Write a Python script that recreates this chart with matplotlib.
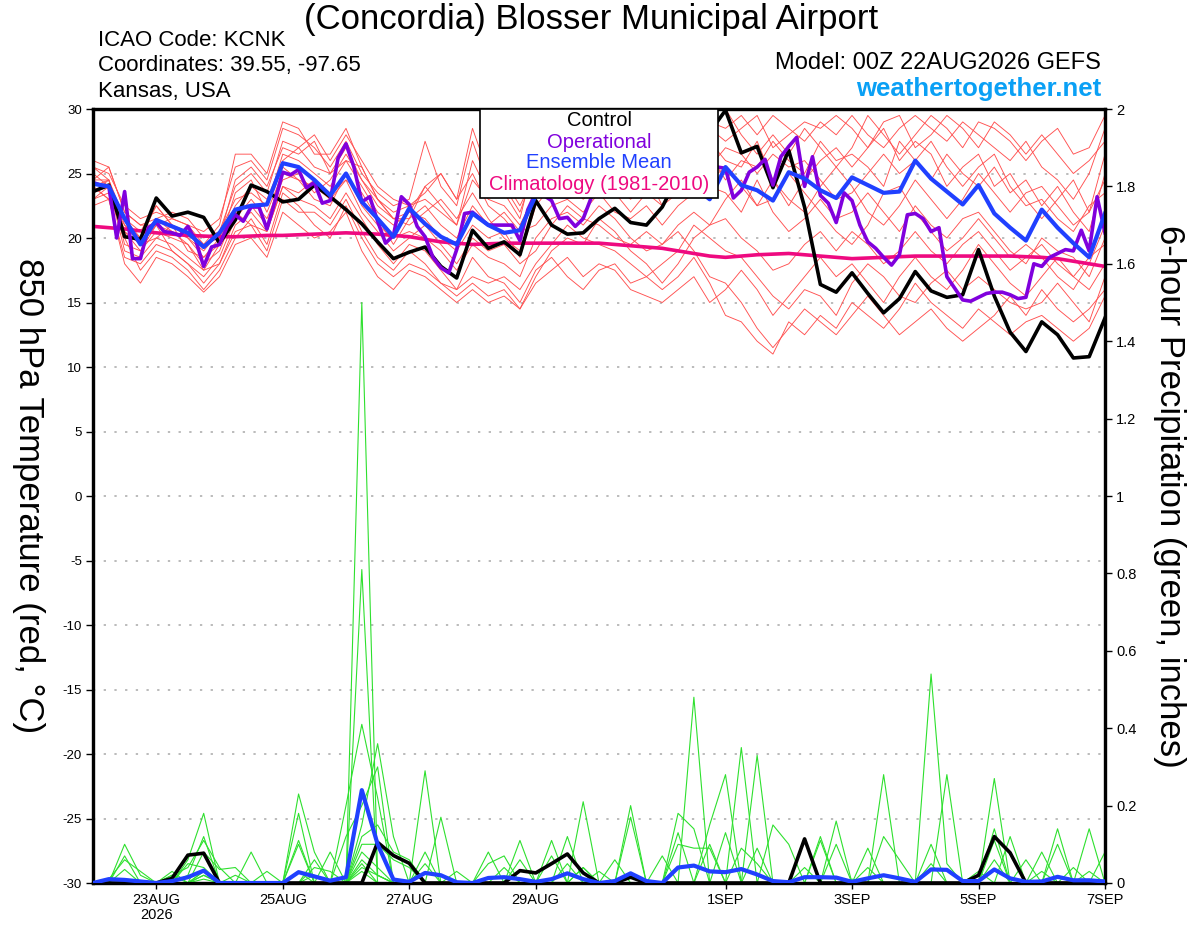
import numpy as np
import matplotlib
matplotlib.use("Agg")
import matplotlib.pyplot as plt
from matplotlib.patches import Rectangle

plt.rcParams['font.family'] = ['Liberation Sans', 'DejaVu Sans']

# forecast hours: 6-hourly ensemble, 3-hourly operational run
hours6 = np.arange(65) * 6
hours3 = np.arange(129) * 3

# 850 hPa temperature, ensemble members (deg C), 4 values per day
temp_members = [
    [25.5, 25.0, 22.5, 21.5, 22.0, 21.5, 21.0, 20.5, 21.5, 25.5, 26.0, 24.5, 28.5, 28.0, 27.0, 25.5,
     27.5, 25.0, 23.5, 22.5, 23.0, 27.5, 24.0, 22.5, 27.5, 24.0, 23.5, 21.5, 26.5, 27.0, 28.0, 27.5,
     28.5, 27.0, 26.0, 27.5, 26.0, 26.5, 28.5, 29.0, 28.5, 29.5, 28.0, 29.5, 28.5, 27.5, 29.0, 28.0,
     29.5, 28.0, 27.0, 28.5, 29.5, 28.5, 27.5, 29.0, 28.0, 27.0, 26.0, 27.5, 25.5, 24.5, 23.0, 25.0,
     28.5],
    [23.5, 24.0, 19.0, 18.5, 20.0, 19.5, 18.5, 17.5, 18.0, 21.0, 22.0, 20.5, 24.0, 23.0, 22.5, 21.5,
     23.5, 21.5, 19.5, 18.0, 19.5, 19.0, 17.5, 16.0, 18.5, 17.0, 16.5, 15.0, 17.5, 18.5, 17.0, 16.0,
     17.5, 18.0, 16.5, 17.0, 16.0, 17.0, 18.5, 16.5, 14.0, 13.5, 12.0, 11.0, 13.5, 12.5, 14.0, 13.0,
     15.0, 14.0, 13.0, 14.5, 16.5, 15.0, 14.0, 13.0, 14.5, 13.5, 12.5, 13.5, 14.0, 13.0, 12.0, 13.0,
     15.5],
    [24.5, 24.5, 21.0, 20.0, 21.5, 20.5, 20.0, 19.0, 20.5, 23.0, 23.5, 22.5, 26.5, 26.0, 25.0, 24.0,
     26.0, 24.0, 22.0, 21.0, 22.0, 21.5, 20.0, 19.0, 21.0, 20.0, 20.5, 18.5, 22.5, 24.0, 24.5, 23.0,
     24.0, 23.5, 22.0, 23.5, 22.5, 24.0, 25.0, 24.0, 23.5, 22.0, 24.5, 22.0, 20.5, 21.5, 23.0, 21.5,
     22.0, 23.5, 22.0, 20.5, 22.5, 21.0, 20.0, 21.5, 22.0, 20.5, 19.0, 18.0, 20.0, 19.0, 18.5, 17.0,
     20.0],
    [23.0, 23.5, 20.0, 17.5, 19.0, 18.5, 17.5, 16.0, 17.5, 20.0, 21.5, 19.5, 23.5, 22.5, 21.0, 20.0,
     22.5, 20.0, 18.0, 17.0, 18.0, 17.5, 16.5, 15.5, 16.5, 15.5, 16.0, 14.5, 17.0, 19.0, 20.0, 19.5,
     21.5, 20.5, 19.0, 18.0, 16.5, 18.0, 20.0, 21.0, 23.0, 24.5, 22.5, 24.5, 23.0, 22.0, 24.0, 25.5,
     24.0, 22.0, 21.0, 22.5, 24.5, 23.0, 21.5, 23.0, 25.0, 23.5, 22.0, 23.5, 24.0, 22.5, 21.0, 22.0,
     24.5],
    [26.0, 25.5, 22.0, 21.0, 21.5, 22.0, 21.5, 20.0, 20.5, 24.0, 25.0, 23.5, 27.5, 27.0, 28.0, 26.0,
     28.0, 26.0, 24.0, 23.0, 22.5, 23.5, 25.0, 23.0, 25.0, 22.5, 21.5, 20.0, 24.0, 26.0, 27.5, 26.0,
     27.0, 26.5, 25.0, 24.0, 23.5, 25.0, 26.5, 27.5, 26.0, 25.5, 27.5, 24.5, 22.5, 24.5, 26.0, 27.0,
     25.5, 27.0, 28.5, 26.0, 27.5, 26.5, 24.0, 25.5, 26.5, 24.0, 25.0, 23.0, 21.5, 23.0, 24.5, 22.0,
     26.5],
    [22.5, 23.0, 18.0, 16.5, 18.5, 18.0, 17.0, 15.8, 17.0, 19.5, 20.0, 18.5, 22.0, 21.0, 20.0, 20.5,
     22.0, 19.0, 17.0, 16.0, 17.5, 17.0, 16.0, 15.0, 16.0, 15.0, 15.5, 14.5, 16.5, 17.5, 18.5, 17.0,
     18.0, 17.5, 16.0, 15.5, 15.0, 16.0, 17.0, 15.0, 16.0, 17.5, 16.0, 14.0, 15.5, 17.0, 18.5, 17.0,
     18.0, 16.5, 15.0, 17.0, 18.5, 17.0, 16.0, 17.5, 19.5, 18.0, 16.5, 15.5, 17.0, 18.5, 17.0, 16.0,
     18.0],
    [24.0, 24.5, 20.5, 19.0, 20.5, 20.0, 19.5, 18.0, 19.0, 22.0, 22.5, 21.0, 25.5, 24.5, 23.0, 22.5,
     25.0, 22.5, 21.0, 20.0, 20.5, 20.0, 19.0, 17.5, 19.5, 18.5, 18.0, 17.0, 20.0, 21.5, 22.0, 21.0,
     22.5, 21.5, 20.0, 19.0, 19.5, 20.5, 19.0, 17.0, 16.5, 15.0, 13.0, 11.5, 13.0, 14.5, 13.5, 12.5,
     14.0, 15.5, 14.0, 12.5, 13.5, 14.5, 13.0, 12.0, 13.0, 14.0, 15.5, 14.0, 16.0, 14.5, 13.5, 14.5,
     16.0],
    [25.0, 24.0, 21.5, 20.5, 22.5, 21.0, 20.5, 19.5, 21.0, 26.5, 26.5, 25.0, 29.0, 28.5, 26.5, 26.5,
     28.5, 25.5, 23.0, 21.5, 22.0, 24.0, 25.0, 23.0, 28.5, 25.0, 24.0, 22.0, 25.5, 27.5, 29.0, 28.0,
     27.5, 28.5, 27.0, 26.0, 25.0, 27.0, 29.0, 28.0, 30.0, 28.0, 26.5, 28.0, 26.5, 28.5, 27.0, 25.5,
     27.0, 29.5, 28.0, 26.5, 28.0, 29.5, 28.5, 27.0, 29.0, 28.5, 27.5, 26.0, 27.5, 28.5, 26.5, 27.0,
     29.5],
    [24.0, 23.0, 21.0, 19.5, 20.0, 21.0, 19.0, 18.5, 19.5, 23.5, 24.5, 22.0, 25.0, 24.5, 24.0, 23.0,
     24.5, 23.5, 21.5, 19.5, 21.5, 22.5, 21.0, 20.0, 22.5, 21.0, 22.0, 20.5, 21.0, 22.5, 23.0, 22.0,
     23.5, 22.0, 21.5, 22.5, 21.0, 22.5, 23.5, 24.5, 25.5, 24.0, 22.5, 23.0, 25.0, 23.5, 22.0, 20.5,
     19.5, 21.0, 23.5, 24.0, 22.0, 20.5, 19.0, 20.0, 21.5, 20.0, 18.5, 19.5, 18.5, 17.0, 16.0, 18.0,
     21.0],
    [23.5, 24.5, 19.5, 19.0, 21.0, 19.0, 18.0, 17.0, 18.5, 21.5, 23.0, 21.5, 24.5, 25.0, 23.5, 24.5,
     26.5, 24.5, 22.5, 21.5, 21.0, 22.0, 23.0, 21.5, 23.5, 21.5, 20.0, 19.0, 23.0, 25.0, 24.0, 25.5,
     25.0, 24.0, 23.0, 24.5, 23.5, 26.0, 27.0, 25.5, 27.0, 26.5, 25.0, 26.5, 25.5, 26.0, 24.5, 23.0,
     23.5, 25.0, 26.5, 25.0, 26.0, 27.5, 25.5, 24.0, 25.5, 26.5, 24.0, 22.5, 23.0, 21.5, 20.5, 22.5,
     23.5],
    [24.0, 23.0, 18.5, 18.0, 19.5, 19.0, 18.0, 16.5, 18.0, 20.5, 21.0, 19.0, 23.0, 22.0, 22.0, 21.0,
     23.0, 20.5, 18.5, 17.5, 19.0, 18.0, 16.5, 16.0, 17.0, 16.5, 17.0, 16.0, 18.0, 19.5, 21.0, 20.0,
     19.5, 19.0, 18.0, 17.0, 18.0, 19.0, 21.0, 20.0, 19.0, 18.5, 17.0, 15.5, 14.5, 16.0, 15.5, 14.0,
     16.5, 18.0, 17.0, 15.5, 15.0, 16.5, 17.5, 16.0, 17.0, 16.0, 15.0, 14.5, 15.0, 16.5, 15.0, 13.5,
     17.0],
    [24.5, 25.5, 22.0, 21.0, 21.0, 21.5, 21.0, 19.5, 20.0, 22.5, 24.0, 23.0, 26.0, 27.0, 25.5, 25.0,
     27.0, 24.5, 23.0, 22.0, 22.5, 23.0, 22.0, 21.0, 24.5, 23.0, 22.5, 21.0, 23.5, 24.5, 26.0, 27.0,
     26.0, 25.0, 24.0, 26.0, 24.5, 25.5, 27.5, 28.5, 27.5, 28.5, 29.5, 27.0, 28.0, 29.0, 28.5, 29.5,
     28.5, 27.0, 29.0, 29.5, 27.0, 28.0, 29.5, 28.5, 27.0, 29.0, 28.0, 26.5, 28.0, 26.5, 25.0, 26.0,
     27.5],
    [23.0, 24.0, 20.5, 19.5, 21.0, 20.5, 19.5, 17.5, 19.5, 22.0, 21.0, 20.5, 24.0, 23.5, 24.5, 23.5,
     24.5, 22.0, 20.5, 19.0, 20.0, 21.0, 19.5, 18.0, 20.0, 19.0, 19.5, 18.0, 19.0, 21.0, 22.5, 21.5,
     21.0, 20.0, 19.5, 20.5, 19.5, 21.0, 22.0, 21.0, 21.5, 20.0, 19.0, 17.5, 18.0, 19.5, 20.5, 19.0,
     20.5, 19.5, 18.0, 19.0, 20.5, 19.0, 18.0, 19.5, 20.5, 19.0, 17.5, 18.5, 19.5, 18.0, 17.0, 18.5,
     19.5],
    [25.5, 24.5, 21.5, 20.0, 22.5, 21.0, 20.0, 18.5, 20.0, 24.5, 25.5, 24.0, 27.0, 26.5, 27.5, 25.0,
     26.0, 25.5, 23.0, 21.5, 21.5, 24.0, 22.5, 21.0, 26.0, 23.5, 24.5, 22.5, 25.0, 26.5, 25.0, 24.5,
     25.5, 27.0, 26.0, 25.0, 22.5, 23.5, 25.5, 26.5, 24.5, 26.0, 25.5, 27.5, 26.0, 25.0, 27.5, 26.0,
     26.5, 25.5, 24.0, 27.5, 26.0, 24.5, 26.5, 25.0, 24.0, 25.5, 23.5, 24.5, 22.5, 24.0, 22.0, 20.5,
     25.0],
]

control_temp = [
    23.6, 24.1, 20.1, 19.9, 23.1, 21.7, 22.0, 21.6, 19.6, 21.4, 24.1, 23.6, 22.8, 23.0, 24.1, 23.2,
    22.2, 21.1, 19.7, 18.4, 18.9, 19.3, 17.8, 16.9, 20.6, 19.2, 19.7, 18.7, 22.9, 21.0, 20.3, 20.4,
    21.5, 22.3, 21.2, 21.0, 22.4, 24.8, 26.5, 28.2, 29.9, 26.6, 27.1, 23.9, 26.8, 22.4, 16.4, 15.8,
    17.3, 15.7, 14.2, 15.3, 17.4, 15.9, 15.4, 15.6, 19.1, 15.5, 12.7, 11.2, 13.5, 12.5, 10.7, 10.8,
    13.8]

mean_temp = [
    24.2, 24.0, 21.5, 19.5, 21.4, 20.9, 20.4, 19.3, 20.4, 22.2, 22.5, 22.6, 25.8, 25.5, 24.5, 23.3,
    25.0, 22.8, 21.5, 20.1, 22.3, 21.1, 20.1, 19.5, 21.9, 21.0, 20.4, 20.6, 23.3, 23.3, 23.2, 23.4,
    24.0, 24.5, 24.0, 24.5, 25.0, 24.5, 24.0, 23.0, 25.5, 24.1, 23.7, 22.9, 25.1, 24.6, 23.7, 23.1,
    24.7, 24.1, 23.5, 23.6, 26.0, 24.6, 23.6, 22.6, 24.1, 21.9, 20.8, 19.8, 22.2, 20.8, 19.6, 18.5,
    21.9]

clim_temp = [
    20.9, 20.8, 20.7, 20.55, 20.4, 20.3, 20.2, 20.15, 20.1, 20.1, 20.15, 20.2, 20.2, 20.25, 20.3, 20.35,
    20.4, 20.35, 20.3, 20.2, 20.1, 19.9, 19.7, 19.6, 19.5, 19.55, 19.6, 19.6, 19.6, 19.6, 19.6, 19.6,
    19.6, 19.5, 19.4, 19.3, 19.2, 19.0, 18.8, 18.6, 18.5, 18.6, 18.7, 18.75, 18.8, 18.7, 18.6, 18.5,
    18.4, 18.45, 18.5, 18.55, 18.6, 18.6, 18.6, 18.6, 18.6, 18.6, 18.6, 18.55, 18.5, 18.4, 18.2, 18.0,
    17.8]

# operational run, 3-hourly
oper_temp = [
    24.3, 24.1, 24.0, 20.0, 23.6, 18.4, 18.4, 20.8, 21.2, 20.5, 20.4, 20.2, 20.9, 19.8, 17.8, 19.3,
    19.5, 20.9, 21.8, 21.3, 22.4, 22.4, 20.7, 22.8, 25.1, 24.9, 25.3, 23.9, 24.3, 22.7, 22.9, 26.2,
    27.3, 25.5, 22.8, 23.2, 21.3, 19.6, 20.2, 23.2, 22.6, 20.9, 20.1, 18.5, 17.7, 17.3, 19.1, 21.9,
    22.0, 21.5, 21.0, 21.0, 21.0, 21.0, 19.8, 22.2, 23.5, 23.3, 22.9, 21.5, 21.6, 20.9, 21.5, 23.1,
    24.0, 24.5, 25.0, 24.0, 23.5, 24.5, 25.5, 26.0, 25.0, 24.5, 25.5, 26.5, 27.0, 26.0, 25.0, 25.5,
    25.4, 23.1, 23.7, 25.1, 25.5, 26.1, 24.1, 26.3, 27.1, 27.8, 24.0, 26.3, 23.3, 22.7, 21.2, 23.5,
    22.9, 21.0, 19.7, 19.2, 18.5, 17.9, 18.7, 21.8, 21.9, 21.5, 20.5, 20.8, 17.0, 16.1, 15.2, 15.1,
    15.4, 15.7, 15.8, 15.8, 15.6, 15.3, 15.4, 18.0, 17.8, 18.5, 18.8, 19.1, 19.0, 20.6, 19.0, 23.2,
    20.4]

# 6-hour precipitation, ensemble members (inches)
precip_members = [
    [0, 0, 0.10, 0.02, 0, 0, 0.02, 0.12, 0, 0, 0, 0, 0, 0.10, 0, 0,
     0, 1.50, 0.02, 0, 0, 0.05, 0, 0, 0, 0, 0, 0.06, 0, 0, 0, 0.04,
     0, 0, 0, 0, 0, 0.18, 0.14, 0, 0, 0.35, 0, 0, 0, 0, 0.12, 0,
     0, 0, 0.28, 0, 0, 0, 0, 0, 0, 0.14, 0, 0, 0, 0, 0, 0,
     0],
    [0, 0, 0.07, 0, 0, 0, 0.06, 0.18, 0, 0, 0, 0, 0, 0.23, 0.08, 0,
     0, 0.81, 0, 0, 0, 0.29, 0, 0, 0, 0, 0, 0, 0, 0.11, 0, 0.21,
     0, 0, 0, 0, 0, 0, 0.48, 0, 0, 0, 0.33, 0, 0, 0, 0, 0,
     0, 0, 0, 0, 0, 0.54, 0.05, 0, 0, 0, 0, 0, 0, 0, 0, 0,
     0],
    [0, 0.01, 0.06, 0.03, 0, 0.02, 0.04, 0.11, 0.04, 0, 0, 0, 0, 0.18, 0, 0,
     0.20, 0.41, 0.22, 0, 0, 0, 0.17, 0, 0, 0.08, 0, 0, 0, 0, 0.12, 0,
     0, 0, 0.20, 0, 0, 0, 0, 0.15, 0.28, 0, 0, 0, 0, 0, 0, 0,
     0, 0, 0, 0, 0, 0, 0.28, 0, 0, 0.27, 0, 0, 0, 0, 0, 0,
     0],
    [0, 0, 0.035, 0, 0, 0, 0, 0.08, 0.035, 0.04, 0, 0, 0, 0.11, 0, 0.08,
     0, 0.15, 0.36, 0.12, 0, 0, 0, 0, 0, 0, 0, 0.11, 0, 0, 0, 0,
     0, 0, 0, 0, 0, 0.13, 0, 0, 0, 0, 0.09, 0, 0, 0, 0, 0.16,
     0, 0.09, 0, 0, 0, 0, 0, 0, 0, 0, 0.12, 0, 0, 0.14, 0, 0,
     0],
    [0, 0, 0, 0, 0, 0, 0.05, 0.04, 0, 0, 0.08, 0, 0, 0, 0.06, 0,
     0.12, 0.20, 0.30, 0, 0, 0.08, 0, 0, 0, 0.05, 0.07, 0, 0, 0, 0, 0,
     0, 0.06, 0, 0, 0, 0, 0, 0, 0.13, 0, 0, 0.15, 0.10, 0, 0, 0,
     0, 0, 0, 0, 0, 0, 0, 0, 0, 0.11, 0, 0.06, 0, 0, 0, 0,
     0.08],
    [0, 0, 0, 0, 0, 0.03, 0, 0, 0, 0, 0, 0.03, 0, 0, 0.04, 0.03,
     0, 0.12, 0.15, 0.08, 0.06, 0, 0, 0.03, 0, 0, 0.04, 0, 0, 0.07, 0, 0,
     0, 0, 0.17, 0, 0.07, 0, 0, 0.10, 0, 0, 0, 0, 0, 0, 0, 0.10,
     0, 0, 0, 0, 0, 0.10, 0, 0, 0, 0, 0, 0, 0.08, 0, 0, 0.14,
     0],
    [0, 0, 0, 0, 0, 0.02, 0, 0.03, 0, 0, 0, 0, 0, 0, 0, 0,
     0, 0.10, 0.10, 0.06, 0.04, 0, 0, 0, 0, 0, 0, 0, 0, 0, 0.05, 0,
     0.03, 0, 0, 0, 0, 0.10, 0.09, 0.09, 0, 0.09, 0.05, 0, 0, 0, 0.11, 0,
     0, 0, 0.12, 0.06, 0, 0, 0, 0, 0, 0, 0, 0, 0, 0, 0, 0,
     0],
    [0, 0, 0, 0, 0, 0, 0, 0.02, 0, 0, 0, 0, 0, 0, 0, 0,
     0, 0.08, 0.04, 0, 0, 0, 0, 0, 0, 0, 0, 0, 0, 0, 0, 0,
     0, 0, 0, 0, 0, 0, 0, 0, 0, 0, 0, 0, 0, 0.04, 0, 0,
     0, 0, 0, 0, 0, 0, 0, 0, 0, 0.06, 0, 0, 0.03, 0, 0, 0,
     0],
    [0, 0, 0, 0, 0, 0, 0, 0.03, 0, 0, 0, 0, 0, 0, 0.02, 0,
     0, 0.06, 0.02, 0, 0, 0, 0, 0, 0, 0, 0, 0, 0, 0, 0, 0.04,
     0, 0, 0, 0, 0, 0, 0, 0, 0, 0, 0, 0, 0, 0, 0, 0,
     0, 0.04, 0, 0, 0, 0.05, 0, 0, 0.03, 0, 0, 0, 0, 0.10, 0, 0.03,
     0],
    [0, 0, 0, 0, 0, 0, 0, 0.01, 0, 0, 0, 0, 0, 0, 0, 0,
     0, 0.05, 0, 0, 0, 0, 0, 0, 0, 0, 0, 0, 0, 0, 0, 0,
     0, 0, 0, 0, 0, 0, 0, 0, 0, 0, 0, 0, 0, 0, 0, 0,
     0.01, 0, 0, 0, 0, 0, 0, 0, 0, 0, 0, 0, 0, 0, 0.04, 0,
     0],
    [0, 0, 0, 0, 0, 0, 0, 0.02, 0, 0.02, 0, 0, 0, 0.03, 0, 0,
     0, 0.04, 0.02, 0, 0, 0, 0, 0, 0, 0, 0, 0, 0, 0, 0, 0,
     0, 0, 0, 0, 0, 0, 0, 0, 0, 0, 0, 0, 0, 0, 0, 0,
     0, 0, 0, 0, 0, 0, 0, 0, 0, 0, 0, 0, 0, 0, 0, 0,
     0],
    [0, 0, 0, 0, 0, 0, 0, 0, 0, 0, 0, 0, 0, 0, 0, 0,
     0, 0.03, 0, 0, 0, 0, 0, 0, 0, 0, 0, 0, 0, 0, 0, 0,
     0, 0, 0, 0, 0, 0, 0, 0, 0, 0, 0, 0, 0, 0, 0, 0,
     0, 0, 0, 0, 0, 0, 0, 0, 0, 0, 0, 0, 0, 0, 0, 0,
     0],
]

control_precip = [
    0, 0, 0, 0, 0, 0.012, 0.072, 0.077, 0, 0, 0, 0, 0, 0, 0, 0,
    0, 0, 0.105, 0.071, 0.051, 0, 0, 0, 0, 0, 0, 0.032, 0.026, 0.05, 0.075, 0.026,
    0, 0, 0.015, 0, 0, 0, 0, 0, 0, 0, 0, 0, 0, 0.114, 0, 0,
    0, 0, 0, 0, 0, 0, 0, 0, 0.02, 0.12, 0.078, 0, 0, 0, 0, 0,
    0]

mean_precip = [
    0, 0.01, 0.008, 0.004, 0, 0.005, 0.015, 0.032, 0, 0, 0, 0, 0, 0.028, 0.017, 0.006,
    0.015, 0.24, 0.10, 0.009, 0.003, 0.026, 0.02, 0.002, 0, 0.013, 0.015, 0.01, 0.003, 0.01, 0.025, 0.01,
    0, 0.005, 0.025, 0.005, 0, 0.04, 0.045, 0.03, 0.028, 0.036, 0.022, 0.005, 0.002, 0.015, 0.015, 0.014,
    0.003, 0.012, 0.02, 0.012, 0.003, 0.035, 0.034, 0.005, 0.005, 0.035, 0.012, 0.003, 0.004, 0.016, 0.007, 0.007,
    0.004]

tick_hours = [24, 72, 120, 168, 240, 288, 336, 384]
tick_labels = ['23AUG\n2026', '25AUG', '27AUG', '29AUG', '1SEP', '3SEP', '5SEP', '7SEP']
legend_names = ['Control', 'Operational', 'Ensemble Mean', 'Climatology (1981-2010)']

RED = '#ff5050'
GREEN = '#2ee02e'
BLACK = 'black'
PURPLE = '#8000dd'
BLUE = '#2040ff'
PINK = '#ee0a80'

W, H = 1200, 927
fig = plt.figure(figsize=(W / 100, H / 100), dpi=100)
ax = fig.add_axes([93 / W, 1 - 883 / H, 1012 / W, 774 / H])
ax2 = ax.twinx()

for m in temp_members:
    ax.plot(hours6, m, color=RED, lw=0.65, zorder=2)
ax.plot(hours6, clim_temp, color=PINK, lw=2.6, zorder=3)
ax.plot(hours6, control_temp, color=BLACK, lw=2.6, zorder=4)
ax.plot(hours3, oper_temp, color=PURPLE, lw=2.6, zorder=5)
ax.plot(hours6, mean_temp, color=BLUE, lw=3.0, zorder=6)

for m in precip_members:
    ax2.plot(hours6, m, color=GREEN, lw=0.8, zorder=2)
ax2.plot(hours6, control_precip, color=BLACK, lw=2.6, zorder=4)
ax2.plot(hours6, mean_precip, color=BLUE, lw=3.0, zorder=6)

ax.set_xlim(0, 384)
ax.set_ylim(-30, 30)
ax2.set_ylim(0, 2)

ax.set_yticks(np.arange(-30, 31, 5))
ax.set_yticklabels([str(v) for v in range(-30, 31, 5)])
ax2.set_yticks(np.arange(0, 2.01, 0.2))
ax2.set_yticklabels(['0', '0.2', '0.4', '0.6', '0.8', '1', '1.2', '1.4', '1.6', '1.8', '2'])
ax.set_xticks(tick_hours)
ax.set_xticklabels(tick_labels, linespacing=1.1)

for v in range(-25, 30, 5):
    ax.axhline(v, color='#a8a8a8', lw=1.1, ls=(0, (1.5, 5.5)), zorder=1)

ax.tick_params(axis='y', direction='out', length=5, width=1, labelsize=9.5, pad=3)
ax.tick_params(axis='x', direction='out', length=4, width=1, labelsize=10.5, pad=3)
ax2.tick_params(axis='y', direction='out', length=5, width=1, labelsize=10.5, pad=3)
for a in (ax, ax2):
    for s in a.spines.values():
        s.set_linewidth(2.3)

ax.set_ylabel('850 hPa Temperature (red, °C)', fontsize=25, rotation=270,
              labelpad=0, va='center')
ax.yaxis.set_label_coords(-0.064, 0.5)
ax2.set_ylabel('6-hour Precipitation (green, inches)', fontsize=25, rotation=270,
               va='center')
ax2.yaxis.set_label_coords(1.064, 0.5)

# header text
fig.text(591 / W, 1 - 19 / H, '(Concordia) Blosser Municipal Airport',
         ha='center', va='center', fontsize=25)
fig.text(98 / W, 1 - 40 / H, 'ICAO Code: KCNK', ha='left', va='center', fontsize=16)
fig.text(98 / W, 1 - 66 / H, 'Coordinates: 39.55, -97.65', ha='left', va='center', fontsize=16)
fig.text(98 / W, 1 - 92 / H, 'Kansas, USA', ha='left', va='center', fontsize=16)
fig.text(1101 / W, 1 - 63 / H, 'Model: 00Z 22AUG2026 GEFS', ha='right', va='center', fontsize=17)
fig.text(1101 / W, 1 - 89 / H, 'weathertogether.net', ha='right', va='center',
         fontsize=18.5, fontweight='bold', color='#0aa0f5')

# legend box over the plot
fig.patches.append(Rectangle((480 / W, 1 - 198 / H), 238 / W, 89 / H,
                             transform=fig.transFigure, facecolor='white',
                             edgecolor='black', lw=1.2, zorder=5))
legend_colors = [BLACK, PURPLE, BLUE, PINK]
legend_y = [121, 142, 163, 185]
for name, c, y in zip(legend_names, legend_colors, legend_y):
    fig.text(599 / W, 1 - y / H, name, ha='center', va='center', fontsize=14.5,
             color=c, zorder=6)

fig.savefig('out.png', dpi=100)
